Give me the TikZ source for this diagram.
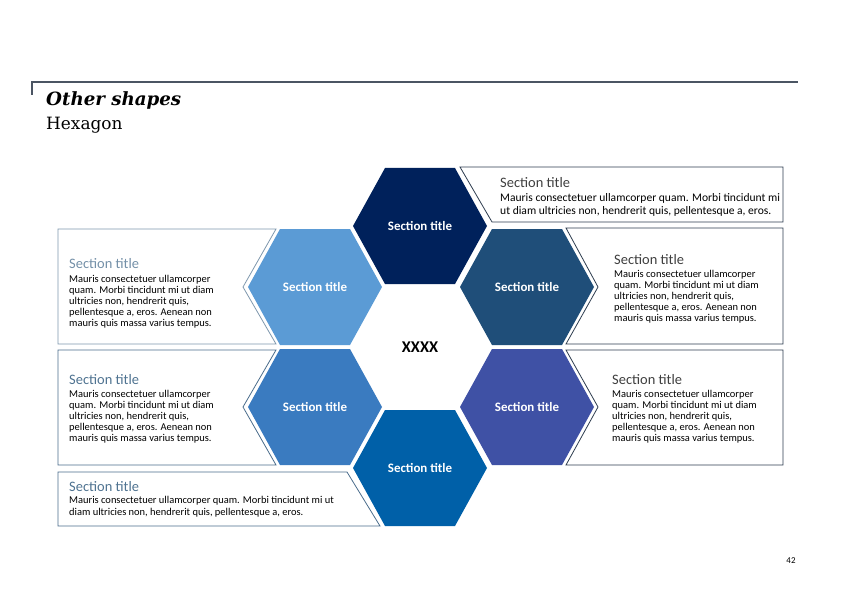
\documentclass[tikz,border=0pt]{standalone}
\usepackage{fontspec}
\setmainfont{Carlito}
\newfontfamily\headfont{DejaVu Serif}
\definecolor{rulegray}{HTML}{4B5563}
\definecolor{hexnavy}{HTML}{00215B}
\definecolor{hexsky}{HTML}{5B9BD5}
\definecolor{hexsteel}{HTML}{1F4E79}
\definecolor{hexmid}{HTML}{3A7BC0}
\definecolor{hexindigo}{HTML}{3F51A5}
\definecolor{hexocean}{HTML}{0060A8}
\definecolor{framelight}{HTML}{7F98AE}
\definecolor{framemid}{HTML}{4A6D8C}
\definecolor{framedark}{HTML}{2F3E50}
\definecolor{titlelight}{HTML}{7490A8}
\definecolor{titlemid}{HTML}{4F7391}
\definecolor{titledark}{HTML}{3F3F3F}

\begin{document}
\begin{tikzpicture}[x=1bp, y=-1bp,
    hexlabel/.style={text=white, font=\bfseries\fontsize{13}{14}\selectfont},
    boxline/.style={line width=0.8bp},
    boxtitle/.style={anchor=base west, inner sep=0, font=\fontsize{14.5}{16}\selectfont},
    boxbody/.style={anchor=north west, inner sep=0, align=left, font=\fontsize{10.5}{11}\selectfont}]
        % Page
        \useasboundingbox[fill=white] (0,0) rectangle (842,595);
        \draw[rulegray, line width=2bp] (32,95) -- (32,82) -- (798,82);
        \node[anchor=base west, inner sep=0, font=\headfont\bfseries\itshape\fontsize{18.3}{20}\selectfont] (head) at (46,106) {Other shapes};
        \node[anchor=base west, inner sep=0, font=\headfont\fontsize{17}{20}\selectfont] (subhead) at (46,130) {Hexagon};

        % Hexagons
        \foreach \nm/\cx/\cy/\col in {H1/420/226/hexnavy, H2/315/287/hexsky, H3/527/287/hexsteel,
                                      H4/315/407/hexmid, H5/527/407/hexindigo, H6/420/468/hexocean} {
            \fill[\col] (\cx-67,\cy) -- (\cx-35,\cy-58) -- (\cx+35,\cy-58) -- (\cx+67,\cy)
                -- (\cx+35,\cy+58) -- (\cx-35,\cy+58) -- cycle;
            \node[hexlabel] (\nm) at (\cx,\cy) {Section title};
        }
        \node[font=\bfseries\fontsize{16.5}{18}\selectfont] (centre) at (420,347) {XXXX};

        % Text boxes
        \draw[boxline, framedark] (460,167) -- (783,167) -- (783,222) -- (492,222) -- cycle;
        \draw[boxline, framelight] (58,229) -- (276,229) -- (243,287) -- (276,344) -- (58,344) -- cycle;
        \draw[boxline, framedark] (566,228) -- (783,228) -- (783,344) -- (566,344) -- (598,287) -- cycle;
        \draw[boxline, framemid] (58,350) -- (276,350) -- (243,407) -- (276,465) -- (58,465) -- cycle;
        \draw[boxline, framedark] (566,350) -- (783,350) -- (783,465) -- (566,465) -- (598,407) -- cycle;
        \draw[boxline, framemid] (58,472) -- (347,472) -- (380,526) -- (58,526) -- cycle;

        % Box texts
        \node[boxtitle, titledark] (T1) at (500,188) {Section title};
        \node[boxbody, font=\fontsize{11.6}{13}\selectfont] (D1) at (500,193)
            {Mauris consectetuer ullamcorper quam. Morbi tincidunt mi\\ut diam ultricies non, hendrerit quis, pellentesque a, eros.};
        \node[boxtitle, titlelight] (T2) at (69,268) {Section title};
        \node[boxbody] (D2) at (69,275)
            {Mauris consectetuer ullamcorper\\quam. Morbi tincidunt mi ut diam\\ultricies non, hendrerit quis,\\pellentesque a, eros. Aenean non\\mauris quis massa varius tempus.};
        \node[boxtitle, titledark] (T3) at (614,264) {Section title};
        \node[boxbody] (D3) at (614,270)
            {Mauris consectetuer ullamcorper\\quam. Morbi tincidunt mi ut diam\\ultricies non, hendrerit quis,\\pellentesque a, eros. Aenean non\\mauris quis massa varius tempus.};
        \node[boxtitle, titlemid] (T4) at (69,384) {Section title};
        \node[boxbody] (D4) at (69,390)
            {Mauris consectetuer ullamcorper\\quam. Morbi tincidunt mi ut diam\\ultricies non, hendrerit quis,\\pellentesque a, eros. Aenean non\\mauris quis massa varius tempus.};
        \node[boxtitle, titledark] (T5) at (612,384) {Section title};
        \node[boxbody] (D5) at (612,390)
            {Mauris consectetuer ullamcorper\\quam. Morbi tincidunt mi ut diam\\ultricies non, hendrerit quis,\\pellentesque a, eros. Aenean non\\mauris quis massa varius tempus.};
        \node[boxtitle, titlemid] (T6) at (69,491) {Section title};
        \node[boxbody, font=\fontsize{10.5}{12}\selectfont] (D6) at (69,496.5)
            {Mauris consectetuer ullamcorper quam. Morbi tincidunt mi ut\\diam ultricies non, hendrerit quis, pellentesque a, eros.};

        % Page number
        \node[font=\fontsize{9}{10}\selectfont] (page) at (791,561) {42};
    \end{tikzpicture}
\end{document}
